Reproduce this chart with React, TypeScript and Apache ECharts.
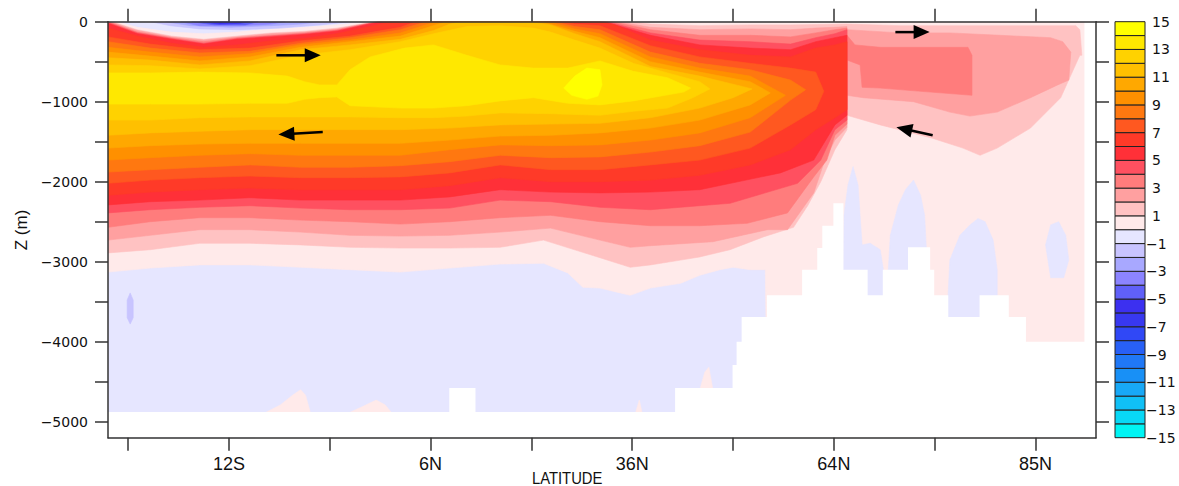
import { useEffect, useRef } from 'react';
import * as echarts from 'echarts';

// ---------- axes ----------
// x: model latitude index (one labelled tick every 10 grid units), y: depth Z (m)
const xTickValues = [0, 10, 20, 30, 40, 50, 60, 70, 80, 90];
const xLabelValues = [10, 30, 50, 70, 90];
const xLabelNames = ['12S', '6N', '36N', '64N', '85N'];
const zTickValues = [0, -500, -1000, -1500, -2000, -2500, -3000, -3500, -4000, -4500, -5000];
const zLabelValues = [0, -1000, -2000, -3000, -4000, -5000];
const levelLabelValues = [-15, -13, -11, -9, -7, -5, -3, -1, 1, 3, 5, 7, 9, 11, 13, 15];
const bandLowerValues = [-15, -14, -13, -12, -11, -10, -9, -8, -7, -6, -5, -4, -3, -2, -1, 0, 1, 2, 3, 4, 5, 6, 7, 8, 9, 10, 11, 12, 13, 14];
const bandColors = ['#00F4F4', '#08D8F6', '#10C0F6', '#18A8F6', '#1890F6', '#2078F6', '#2860F6', '#3048F6', '#3838F0', '#3C30F0', '#6060F8', '#8C84FF', '#A8A8FF', '#C8C4FF', '#E6E6FF', '#FFEAEA', '#FFC2C2', '#FFA0A0', '#FF7C7C', '#FF5060', '#FF3038', '#FF3A28', '#FF5820', '#FF7810', '#FF9000', '#FFA800', '#FFC000', '#FFD200', '#FFE800', '#FFFF00'];

// ---------- streamfunction contours (x index, depth m) ----------
const oceanOutline = [[-2, 0], [94.9, 0], [94.9, -5200], [-2, -5200]];

const psi0Top = [[-2,0],[-1.1,0],[0.9,-70],[4.3,-130],[7.5,-150],[10.8,-130],[14.2,-90],[17.5,-70],[20.7,-40],[24.1,0],[94.9,0]];
const psi0Bottom = [[-2,-3130],[2.2,-3080],[7.1,-3040],[12.1,-3040],[17.1,-3070],[22,-3100],[27,-3130],[31.9,-3080],[36.9,-3030],[41.2,-3020],[43.6,-3140],[45.1,-3320],[46.8,-3330],[48.8,-3390],[49.8,-3420],[51.8,-3330],[54.8,-3270],[56.7,-3170],[58.7,-3100],[60,-3070],[61.7,-3100],[63.2,-3100],[63.4,-5200],[94.9,-5200]];

const psi1Top = [[-2,0],[-1.6,0],[0.9,-100],[4.3,-180],[7.5,-220],[10.8,-180],[14.2,-140],[17.5,-120],[20.7,-80],[24.5,0],[49.5,0],[51.8,-30],[56.7,-50],[61.7,-40],[65.7,-40],[71.3,-30]];
const psi1Bottom = [[-2,-2890],[2.2,-2850],[7.1,-2770],[12.1,-2770],[17.1,-2790],[22,-2820],[27,-2830],[31.9,-2830],[36.9,-2820],[41.2,-2730],[46.8,-2950],[49.8,-3070],[51.8,-3040],[54.8,-2980],[56.7,-2940],[59.7,-2850],[63,-2690],[66,-2570],[67.4,-2300],[68.7,-2000],[70.1,-1600],[71.3,-1350]];
const psi1NorthTop = [[71.3,-30],[76.6,-50],[86.5,-50],[94,-50],[94.4,-100],[94.6,-420]];
const psi1NorthBottom = [[71.3,-1170],[74.6,-1290],[79.6,-1450],[82.8,-1580],[84.5,-1670],[86.2,-1580],[89.5,-1330],[92.5,-950],[94.4,-420]];

const psi2Top = [[-2,0],[-1.8,0],[0.9,-110],[4.3,-190],[7.5,-230],[10.8,-190],[14.2,-150],[17.5,-130],[20.7,-90],[24.6,0],[48.5,0],[51.8,-70],[56.7,-100],[61.7,-90],[65.7,-100],[68.2,-80],[70.1,-70],[71.3,-60]];
const psi2Bottom = [[-2,-2730],[2.2,-2670],[7.1,-2600],[12.1,-2600],[17.1,-2630],[22,-2670],[27,-2680],[31.9,-2670],[36.9,-2630],[41.9,-2580],[46.8,-2730],[49.8,-2820],[51.8,-2800],[58,-2750],[63.4,-2600],[65.4,-2600],[68,-2140],[69.1,-1730],[70.1,-1480],[71.3,-1320]];
const psi2NorthTop = [[71.3,-100],[76.6,-140],[81.5,-140],[86.5,-170],[91.5,-200],[92.7,-250],[93.5,-380],[93.3,-730]];
const psi2NorthBottom = [[71.3,-920],[72.9,-950],[77.9,-1000],[81.5,-1130],[83.5,-1180],[86.2,-1130],[89.5,-950],[92.2,-790],[93.3,-730]];

const psi3Top = [[-2,0],[0.9,-130],[4.3,-200],[7.5,-250],[10.8,-200],[14.2,-170],[17.5,-140],[20.7,-100],[24.7,0],[48,0],[51.8,-100],[56.7,-170],[61.7,-170],[65.7,-190],[68.2,-140],[70.1,-100],[71.3,-80]];
const psi3Bottom = [[-2,-2570],[2.2,-2500],[7.1,-2450],[12.1,-2450],[17.1,-2480],[22,-2500],[27,-2530],[31.9,-2500],[36.9,-2450],[41.9,-2420],[46.8,-2500],[51.8,-2550],[56.7,-2550],[61.4,-2520],[65.4,-2390],[68,-1940],[69.3,-1730],[70.1,-1420],[71.3,-1280]];
const psi3NorthTop = [[71.3,-170],[72.1,-290],[74.6,-320],[83.3,-320],[83.7,-420],[83.7,-920]];
const psi3NorthBottom = [[71.3,-480],[72.6,-540],[72.8,-820],[74.6,-830],[79.6,-880],[83.7,-920]];

const psi4Top = [[-2,-10],[0.9,-140],[4.3,-210],[7.5,-270],[10.8,-210],[14.2,-180],[17.5,-150],[20.7,-110],[24.8,0],[47.5,0],[51.8,-140],[56.7,-230],[61.7,-250],[65.7,-280],[68.2,-200],[70.1,-150],[71.3,-100]];
const psi4Bottom = [[-2,-2390],[2.2,-2350],[7.1,-2320],[12.1,-2300],[17.1,-2330],[22,-2350],[27,-2350],[31.9,-2330],[36.9,-2230],[41.9,-2250],[46.8,-2320],[51.8,-2350],[56.7,-2300],[59.7,-2270],[66.4,-2020],[68.7,-1730],[70.1,-1350],[71.3,-1230]];

const psi5Top = [[-2,-20],[0.9,-150],[4.3,-220],[7.5,-280],[10.8,-220],[14.2,-190],[17.5,-160],[20.7,-120],[25,0],[47.2,0],[51.8,-170],[56.7,-290],[61.7,-330],[65.7,-350],[68.2,-250],[70.1,-200],[71.3,-170]];
const psi5Bottom = [[-2,-2290],[2.2,-2250],[7.1,-2230],[12.1,-2200],[17.1,-2230],[22,-2230],[27,-2230],[31.9,-2190],[36.9,-2100],[41.9,-2130],[46.8,-2140],[51.8,-2130],[56.7,-2100],[64.7,-1890],[68,-1730],[70.1,-1290],[71.3,-1170]];

const psi6Top = [[-2,-80],[0.9,-180],[4.3,-270],[7.5,-320],[10.8,-290],[14.2,-240],[17.5,-210],[20.7,-150],[24,-60],[26,0],[46.8,0],[48.3,-40],[51.8,-230],[56.7,-350],[61.7,-420],[65.7,-440],[68.2,-330],[70.1,-290],[71.3,-250]];
const psi6Bottom = [[-2,-2170],[2.2,-2130],[7.1,-2100],[12.1,-2080],[17.1,-2100],[22,-2100],[27,-2100],[31.9,-2050],[36.9,-1950],[41.9,-2000],[46.8,-2000],[51.8,-1980],[56.7,-1920],[61.7,-1790],[65.7,-1600],[68.2,-1350],[70.1,-1200],[71.3,-1100]];

const psi7Top = [[-2,-190],[2.2,-280],[7.1,-350],[12.1,-330],[17.1,-240],[22,-180],[27,-70],[28.5,0],[42.8,0],[44.3,-30],[46.8,-50],[51.8,-300],[56.7,-440],[61.7,-520],[65.7,-580],[68.2,-630],[69,-870]];
const psi7Bottom = [[-2,-2020],[2.2,-1980],[7.1,-1950],[12.1,-1930],[17.1,-1950],[22,-1950],[27,-1940],[31.9,-1890],[36.9,-1790],[41.9,-1850],[46.8,-1850],[51.8,-1790],[56.7,-1730],[61.7,-1580],[65.7,-1290],[68.2,-1100],[69,-870]];

const psi8Top = [[-2,-250],[2.2,-330],[7.1,-390],[12.1,-370],[17.1,-270],[22,-200],[27,-100],[29.5,0],[42.2,0],[44.3,-60],[46.8,-100],[51.8,-380],[56.7,-520],[61.7,-600],[65.7,-730],[67.2,-850]];
const psi8Bottom = [[-2,-1880],[2.2,-1850],[7.1,-1820],[12.1,-1790],[17.1,-1820],[22,-1820],[27,-1800],[31.9,-1750],[36.9,-1670],[41.9,-1700],[46.8,-1690],[51.8,-1630],[56.7,-1550],[61.7,-1380],[65.7,-980]];

const psi9Top = [[-2,-320],[2.2,-380],[7.1,-440],[12.1,-400],[17.1,-290],[22,-230],[27,-140],[30.5,0],[41.6,0],[44.3,-90],[46.8,-150],[51.8,-440],[56.7,-580],[61.7,-680],[65.2,-920]];
const psi9Bottom = [[-2,-1730],[2.2,-1700],[7.1,-1670],[12.1,-1650],[17.1,-1670],[22,-1670],[27,-1670],[31.9,-1600],[36.9,-1540],[41.9,-1550],[46.8,-1540],[51.8,-1480],[56.7,-1390],[61.7,-1200]];

const psi10Top = [[-2,-380],[2.2,-430],[7.1,-490],[12.1,-440],[17.1,-320],[22,-250],[27,-180],[31.5,0],[41,0],[44.3,-120],[46.8,-200],[51.8,-500],[56.7,-630],[61.7,-750],[63.7,-890]];
const psi10Bottom = [[-2,-1580],[2.2,-1550],[7.1,-1530],[12.1,-1520],[17.1,-1520],[22,-1520],[27,-1520],[31.9,-1480],[36.9,-1430],[41.9,-1420],[46.8,-1390],[51.8,-1330],[56.7,-1230],[61.7,-1040]];

const psi11Top = [[-2,-450],[2.2,-480],[7.1,-540],[12.1,-490],[17.1,-350],[22,-290],[27,-220],[30.3,-110],[31.9,-30],[33,0],[39.7,0],[41.9,-40],[44.3,-150],[46.8,-250],[51.8,-560],[56.7,-680],[61.9,-840]];
const psi11Bottom = [[-2,-1420],[2.2,-1390],[7.1,-1370],[12.1,-1350],[17.1,-1350],[22,-1350],[27,-1350],[31.9,-1330],[36.9,-1290],[41.9,-1280],[46.8,-1270],[51.8,-1200],[56.7,-1080],[60,-950]];

const psi12Top = [[-2,-540],[2.2,-550],[7.1,-590],[12.1,-550],[17.1,-420],[22,-350],[27,-250],[30.3,-150],[33.6,-60],[36.9,-50],[40.2,-80],[41.9,-130],[44.3,-230],[46.8,-330],[50.1,-520],[53.5,-640],[56.7,-750],[57.7,-840]];
const psi12Bottom = [[-2,-1230],[2.2,-1230],[7.1,-1200],[12.1,-1190],[17.1,-1190],[22,-1190],[27,-1200],[30.3,-1200],[33.6,-1180],[36.9,-1140],[41.9,-1150],[46.8,-1170],[50.1,-1120],[53.5,-1080],[56,-950]];

const psi13Top = [[-2,-640],[2.2,-640],[7.1,-630],[12.1,-640],[15.8,-680],[17.5,-750],[19,-790],[20.7,-790],[22,-600],[24,-440],[27.4,-330],[30.3,-290],[33.6,-420],[36.9,-540],[40.2,-580],[43.6,-580],[46.8,-490],[50.1,-620],[53.5,-700],[55.8,-830]];
const psi13Bottom = [[-2,-1030],[2.2,-1030],[7.1,-1030],[12.1,-1020],[15.8,-1020],[17.5,-970],[19,-950],[20.7,-940],[22,-1050],[27,-1080],[30.3,-1080],[33.6,-1050],[36.9,-990],[40.2,-950],[43.6,-1020],[46.8,-1040],[50.1,-990],[55.1,-880]];

const psi14Core = [[43.2,-830],[44.3,-680],[45.5,-580],[46.8,-600],[47,-790],[46.6,-930],[45.5,-970],[44,-920]];

// surface counter-cell (negative values) near 12S
const neg1Surface = [[2.2,0],[4.2,-50],[7.1,-90],[11.1,-100],[15.1,-80],[19,-40],[22,0]];
const neg2Surface = [[3.7,0],[6.2,-50],[10.1,-70],[14.1,-50],[17.1,-30],[19,0]];
const neg3Surface = [[5.2,0],[7.1,-50],[11.1,-50],[14.1,-30],[15.6,0]];
const neg4Surface = [[6.3,0],[8.6,-40],[11.6,-40],[12.9,0]];
const neg5Surface = [[7.1,0],[9.1,-30],[11.1,-20],[12.1,0]];
const neg1Deep = [[-0.1,-3480],[0.2,-3390],[0.5,-3480],[0.5,-3700],[0.2,-3780],[-0.1,-3700]];

// small positive patches near the bottom
const pos0BlobA = [[13.4,-4900],[15.1,-4790],[16.3,-4670],[17.1,-4600],[17.6,-4670],[18.1,-4900]];
const pos0BlobB = [[21.7,-4900],[23.1,-4820],[24.6,-4730],[25.5,-4790],[26.2,-4900]];
const pos0BlobC = [[56.7,-4600],[57.2,-4380],[57.6,-4320],[58,-4600]];
const pos0BlobD = [[50.3,-4900],[50.7,-4730],[51,-4900]];

// weak negative tongues in the north
const negNorthA = [[70.9,-3230],[71,-2420],[71.4,-2040],[71.9,-1810],[72.4,-2040],[72.6,-2420],[72.8,-2790],[73.6,-2770],[74.6,-2850],[75,-3170],[75,-3480],[70.9,-3480]];
const negNorthB = [[75.3,-3300],[75.6,-2670],[76.4,-2290],[77.1,-2100],[77.9,-1980],[78.6,-2170],[79,-2420],[79.2,-2900],[79.2,-3300]];
const negNorthC = [[81.2,-3730],[81.5,-2980],[82.5,-2670],[83.5,-2540],[84.3,-2460],[85,-2500],[85.8,-2730],[86.2,-3100],[86.2,-3480],[85,-3480],[84.5,-3730]];
const negNorthD = [[91,-2790],[91.5,-2540],[92.3,-2500],[93,-2670],[93.3,-2980],[92.8,-3200],[91.5,-3200]];

// bathymetry (segment start index, depth of sea floor)
const floorStart = [-2, 31.9, 34.4, 54.3, 60, 60.4, 60.9, 63.4, 66.9, 68.4, 68.9, 70, 70.9, 73.3, 74.9, 77.4, 79.5, 79.9, 81.3, 84.5, 87.3, 89, 94.9];
const floorDepth = [-4880, -4580, -4880, -4580, -4290, -4000, -3690, -3420, -3100, -2830, -2550, -2270, -3100, -3420, -3100, -2820, -3100, -3420, -3690, -3420, -3690, -4000, 0];

// circulation arrows: [tailX, tailZ, headX, headZ]
const arrowSegments = [[14.7, -420, 19.1, -420], [19.3, -1380, 14.9, -1410], [76.1, -130, 79.5, -130], [79.8, -1420, 76.2, -1320]];

// ---------- build shapes ----------
const ring = (top: number[][], bottom: number[][]) => top.concat(bottom.slice().reverse());

const fieldShapes: { pts: number[][]; band: number }[] = [
  { pts: oceanOutline, band: -1 },
  { pts: ring(psi0Top, psi0Bottom), band: 0 },
  { pts: pos0BlobA, band: 0 },
  { pts: pos0BlobB, band: 0 },
  { pts: pos0BlobC, band: 0 },
  { pts: pos0BlobD, band: 0 },
  { pts: ring(psi1Top, psi1Bottom), band: 1 },
  { pts: ring(psi1NorthTop, psi1NorthBottom), band: 1 },
  { pts: ring(psi2Top, psi2Bottom), band: 2 },
  { pts: ring(psi2NorthTop, psi2NorthBottom), band: 2 },
  { pts: ring(psi3Top, psi3Bottom), band: 3 },
  { pts: ring(psi3NorthTop, psi3NorthBottom), band: 3 },
  { pts: ring(psi4Top, psi4Bottom), band: 4 },
  { pts: ring(psi5Top, psi5Bottom), band: 5 },
  { pts: ring(psi6Top, psi6Bottom), band: 6 },
  { pts: ring(psi7Top, psi7Bottom), band: 7 },
  { pts: ring(psi8Top, psi8Bottom), band: 8 },
  { pts: ring(psi9Top, psi9Bottom), band: 9 },
  { pts: ring(psi10Top, psi10Bottom), band: 10 },
  { pts: ring(psi11Top, psi11Bottom), band: 11 },
  { pts: ring(psi12Top, psi12Bottom), band: 12 },
  { pts: ring(psi13Top, psi13Bottom), band: 13 },
  { pts: psi14Core, band: 14 },
  { pts: neg1Surface, band: -2 },
  { pts: neg2Surface, band: -3 },
  { pts: neg3Surface, band: -4 },
  { pts: neg4Surface, band: -5 },
  { pts: neg5Surface, band: -6 },
  { pts: neg1Deep, band: -2 },
  { pts: negNorthA, band: -1 },
  { pts: negNorthB, band: -1 },
  { pts: negNorthC, band: -1 },
  { pts: negNorthD, band: -1 },
];

const bandColor = (v: number) => bandColors[bandLowerValues.indexOf(v)];

const frameLine = { show: true, onZero: false, lineStyle: { color: '#333', width: 1.5 } };
const frameTick = { lineStyle: { color: '#333', width: 1.5 } };

const option: any = {
  animation: false,
  backgroundColor: '#ffffff',
  grid: [
    { left: 108, top: 21.7, width: 988, height: 416, containLabel: false, outerBoundsMode: 'none' },
    { left: 1115, top: 21.7, width: 30, height: 416, containLabel: false, outerBoundsMode: 'none' },
  ],
  xAxis: [
    {
      gridIndex: 0, type: 'value', min: -2, max: 96, position: 'bottom', z: 10,
      axisLine: frameLine,
      axisTick: { show: true, customValues: xTickValues, length: 13, inside: false, ...frameTick },
      axisLabel: {
        show: true, customValues: xLabelValues, margin: 17, color: '#111', fontSize: 18, fontFamily: 'Liberation Sans',
        formatter: (v: number) => xLabelNames[xLabelValues.indexOf(v)] ?? '',
      },
      splitLine: { show: false },
    },
    {
      gridIndex: 0, type: 'value', min: -2, max: 96, position: 'top', z: 10,
      axisLine: frameLine,
      axisTick: { show: true, customValues: xTickValues, length: 13, inside: false, ...frameTick },
      axisLabel: { show: false },
      splitLine: { show: false },
    },
    { gridIndex: 1, type: 'value', min: 0, max: 1, show: false, splitLine: { show: false } },
  ],
  yAxis: [
    {
      gridIndex: 0, type: 'value', min: -5200, max: 0, position: 'left', z: 10,
      axisLine: frameLine,
      axisTick: { show: true, customValues: zTickValues, length: 13, inside: false, ...frameTick },
      axisLabel: {
        show: true, customValues: zLabelValues, margin: 20, color: '#111', fontSize: 14, fontFamily: 'DejaVu Sans',
        showMinLabel: true, showMaxLabel: true,
        formatter: (v: number) => (v === 0 ? '0' : '\u2212' + Math.abs(v)),
      },
      splitLine: { show: false },
    },
    {
      gridIndex: 0, type: 'value', min: -5200, max: 0, position: 'right', z: 10,
      axisLine: frameLine,
      axisTick: { show: true, customValues: zTickValues, length: 13, inside: false, ...frameTick },
      axisLabel: { show: false },
      splitLine: { show: false },
    },
    {
      gridIndex: 1, type: 'value', min: -15, max: 15, position: 'right', z: 10,
      axisLine: { show: false }, axisTick: { show: false }, splitLine: { show: false },
      axisLabel: {
        show: true, customValues: levelLabelValues, margin: 1, showMinLabel: true, showMaxLabel: true,
        formatter: (v: number) => (v < 0 ? `{n|\u2212${-v}}` : `{p|${v}}`),
        rich: {
          p: { padding: [0, 0, 0, 6], fontSize: 14, fontFamily: 'DejaVu Sans', color: '#111' },
          n: { fontSize: 14, fontFamily: 'DejaVu Sans', color: '#111' },
        },
      },
    },
  ],
  graphic: [
    { type: 'text', x: 532, y: 478, scaleX: 0.87, silent: true,
      style: { text: 'LATITUDE', font: '17px "Liberation Sans"', fill: '#111', textAlign: 'left', textVerticalAlign: 'middle' } },
    { type: 'text', x: 21, y: 230, rotation: Math.PI / 2, silent: true,
      style: { text: 'Z (m)', font: '17px "Liberation Sans"', fill: '#111', textAlign: 'center', textVerticalAlign: 'middle' } },
  ],
  series: [
    {
      type: 'custom', name: 'streamfunction', xAxisIndex: 0, yAxisIndex: 0, clip: true, silent: true, z: 2,
      data: fieldShapes.map(() => [0, 0]),
      renderItem: (params: any, api: any) => {
        const s = fieldShapes[params.dataIndex];
        const c = bandColor(s.band);
        return {
          type: 'polygon',
          shape: { points: s.pts.map((p) => api.coord(p)) },
          style: { fill: c, stroke: c, lineWidth: 0.6 },
        };
      },
    },
    {
      type: 'custom', name: 'topography', xAxisIndex: 0, yAxisIndex: 0, clip: true, silent: true, z: 3,
      data: floorStart.map((x, i) => [x, floorDepth[i]]),
      renderItem: (params: any, api: any) => {
        const i = params.dataIndex;
        const x0 = floorStart[i];
        const x1 = i + 1 < floorStart.length ? floorStart[i + 1] : 96;
        const a = api.coord([x0, floorDepth[i]]);
        const b = api.coord([x1, -5200]);
        return {
          type: 'rect',
          shape: { x: a[0] - 0.5, y: a[1], width: b[0] - a[0] + 1, height: b[1] - a[1] + 2 },
          style: { fill: '#ffffff' },
        };
      },
    },
    {
      type: 'custom', name: 'arrows', xAxisIndex: 0, yAxisIndex: 0, clip: false, silent: true, z: 4,
      data: arrowSegments.map((s) => [s[0], s[1]]),
      renderItem: (params: any, api: any) => {
        const [x1, y1, x2, y2] = arrowSegments[params.dataIndex];
        const a = api.coord([x1, y1]);
        const b = api.coord([x2, y2]);
        const dx = b[0] - a[0];
        const dy = b[1] - a[1];
        const len = Math.hypot(dx, dy);
        const ux = dx / len;
        const uy = dy / len;
        const hl = 16;
        const hw = 7;
        const bx = b[0] - ux * hl;
        const by = b[1] - uy * hl;
        return {
          type: 'group',
          children: [
            { type: 'line', shape: { x1: a[0], y1: a[1], x2: bx + ux * 2, y2: by + uy * 2 }, style: { stroke: '#000', lineWidth: 2.5 } },
            { type: 'polygon', shape: { points: [[b[0], b[1]], [bx - uy * hw, by + ux * hw], [bx + uy * hw, by - ux * hw]] }, style: { fill: '#000' } },
          ],
        };
      },
    },
    {
      type: 'custom', name: 'colorbar', xAxisIndex: 2, yAxisIndex: 2, clip: false, silent: true, z: 2,
      data: bandLowerValues.map((v) => [0, v]),
      renderItem: (params: any, api: any) => {
        const v = bandLowerValues[params.dataIndex];
        const a = api.coord([0, v + 1]);
        const b = api.coord([1, v]);
        return {
          type: 'rect',
          shape: { x: a[0], y: a[1], width: b[0] - a[0], height: b[1] - a[1] },
          style: { fill: bandColors[params.dataIndex], stroke: '#222', lineWidth: 1 },
        };
      },
    },
  ],
};

export default function App() {
  const ref = useRef<HTMLDivElement>(null);
  useEffect(() => {
    if (!ref.current) return;
    const chart = echarts.init(ref.current, undefined, { renderer: 'svg' });
    chart.setOption(option);
    return () => chart.dispose();
  }, []);
  return (
    <div
      ref={ref}
      style={{ position: 'fixed', left: 0, top: 0, width: 1179, height: 486, background: '#ffffff' }}
    />
  );
}
